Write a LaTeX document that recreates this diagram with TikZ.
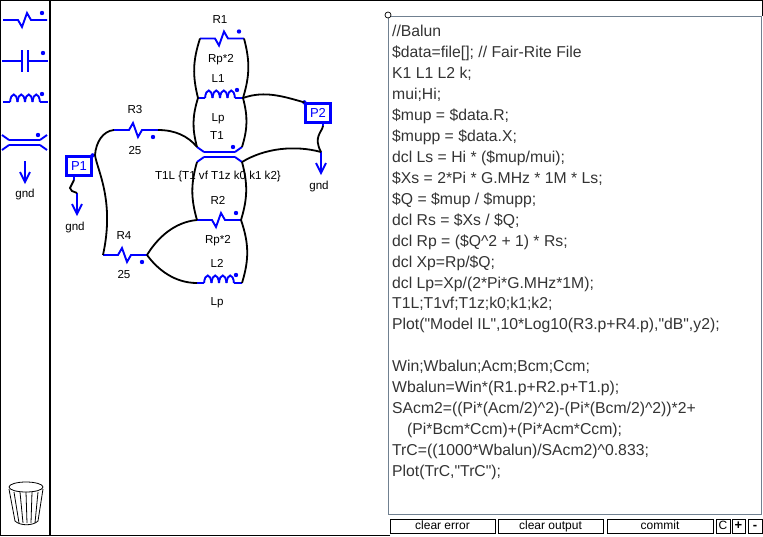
\documentclass[tikz,border=0pt]{standalone}
\usepackage{fontspec}
\setmainfont{Liberation Sans}
\newfontfamily\codefont{Liberation Sans}
\definecolor{partblue}{RGB}{0,0,255}
\definecolor{boxgray}{RGB}{112,128,144}
\tikzset{
    > = stealth,
    wire/.style = {black, line width=1.8pt},
    part/.style = {partblue, line width=1.9pt},
    frameline/.style = {black, line width=1pt},
    button/.style = {draw, line width=1pt, inner sep=0pt, text height=8.5pt, text depth=2.5pt,
        font=\fontsize{12}{14}\selectfont},
    lbl/.style = {inner sep=0pt, font=\fontsize{11.6}{14}\selectfont},
    port/.style = {draw=partblue, line width=2.2pt, minimum width=25pt, minimum height=19pt,
        inner sep=0pt, text=partblue, font=\fontsize{13}{14}\selectfont},
    resistor/.pic = {
        \draw[part] (0,0) -- (15,0) -- (19,7) -- (24,-7) -- (28,0) -- (44,0);
        \fill[partblue] (39,-7) circle (2.2);
        \coordinate (-l) at (0,0);
        \coordinate (-r) at (44,0);
    },
    inductor/.pic = {
        \draw[part] (0,0) -- (7,0);
        \foreach \i in {0,1,2,3}
            \draw[part] (7+7.5*\i,0) .. controls (8+7.5*\i,-10) and (13.5+7.5*\i,-10) .. (14.5+7.5*\i,0);
        \draw[part] (37,0) -- (45,0);
        \fill[partblue] (39,-8) circle (2.2);
        \coordinate (-l) at (0,0);
        \coordinate (-r) at (45,0);
    },
    capacitor/.pic = {
        \draw[part] (0,0) -- (20,0) (20,-11) -- (20,11) (26,-11) -- (26,11) (26,0) -- (46,0);
        \fill[partblue] (41,-8) circle (2.2);
    },
    balun/.pic = {
        \draw[part] (7,5) -- (38,5) (7,10) -- (38,10);
        \draw[part] (0,0) -- (7,5) (0,15) -- (7,10) (38,5) -- (45,0) (38,10) -- (45,15);
        \fill[partblue] (36,0) circle (2.2);
        \coordinate (-a) at (0,0);
        \coordinate (-b) at (45,0);
        \coordinate (-c) at (0,15);
        \coordinate (-d) at (45,15);
    },
    gnd/.pic = {
        \draw[part] (0,0) -- (0,21) (-5,11) -- (0,21) -- (5,11);
        \coordinate (-t) at (0,0);
    }
}

\begin{document}
\begin{tikzpicture}[x=1pt, y=-1pt]
    \useasboundingbox (0,0) rectangle (763,536);

    % window
    \draw[frameline] (390,535) -- (0.5,535) -- (0.5,0.5) -- (762,0.5) -- (762,16);
    \draw[black, line width=2.5pt] (50,0) -- (50,536);
    \draw[boxgray, line width=1pt] (388,16) rectangle (761,514);
    \node[draw, circle, line width=0.7pt, minimum size=6pt, inner sep=0pt, fill=white] (handle) at (388,15) {};

    % palette
    \pic (toolR) at (3,20) {resistor};
    \pic (toolC) at (2,61) {capacitor};
    \pic (toolL) at (3,102) {inductor};
    \pic (toolT) at (2,135) {balun};
    \pic (toolG) at (25,161) {gnd};
    \node[lbl] (toolGnd) at (25,194) {gnd};

    % bin
    \draw[black, line width=0.8pt] (26,487) ellipse (17 and 5);
    \draw[black, line width=0.8pt] (9,489) -- (15,521) .. controls (20,526) and (33,526) .. (38,521) -- (43,489);
    \foreach \a/\b in {14/19, 20/23, 26/27, 32/31, 38/35}
        \draw[black, line width=0.8pt] (\a,492) -- (\b,523);

    % parts
    \pic (R1) at (200,38.5) {resistor};
    \pic (L1) at (198,98) {inductor};
    \pic (T1) at (197,147) {balun};
    \pic (R2) at (197,220) {resistor};
    \pic (L2) at (197,283) {inductor};
    \pic[yscale=-1] (R3) at (114,130) {resistor};
    \pic[yscale=-1] (R4) at (103,255) {resistor};
    \node[port] (P1) at (79,166) {P1};
    \node[port] (P2) at (318,113) {P2};
    \pic (G1) at (77,193) {gnd};
    \pic (G2) at (321,152) {gnd};
    \fill[partblue] (P1.north east) circle (2.2);
    \fill[partblue] (P2.north west) circle (2.2);
    \coordinate (P1a) at (95,155);
    \coordinate (P1b) at (74,180);
    \coordinate (P2b) at (323,126);
    \draw[part] (P1.north east) -- (P1a);
    \draw[part] (P1.south -| P1b) -- (P1b);
    \draw[part] (P2.south -| P2b) -- (P2b);

    % wires
    \draw[wire] (R1-l) to[bend right=16] (L1-l);
    \draw[wire] (R1-r) to[bend left=16] (L1-r);
    \draw[wire] (L1-l) to[bend right=16] (T1-a);
    \draw[wire] (L1-r) to[bend left=16] (T1-b);
    \draw[wire] (T1-c) to[bend right=16] (R2-l);
    \draw[wire] (T1-d) to[bend left=16] (R2-r);
    \draw[wire] (R2-r) to[bend left=18] (L2-r);
    \draw[wire] (R3-r) .. controls (175,130) and (188,136) .. (T1-a);
    \draw[wire] (R3-l) .. controls (103,131) and (96,142) .. (P1a);
    \draw[wire] (P1a) .. controls (97,170) and (115,200) .. (R4-l);
    \draw[wire] (R4-r) .. controls (158,237) and (175,222) .. (R2-l);
    \draw[wire] (R4-r) .. controls (158,270) and (175,283) .. (L2-l);
    \draw[wire] (L1-r) .. controls (265,90) and (285,97) .. (P2.north west);
    \draw[wire] (T1-d) .. controls (265,148) and (295,145) .. (G2-t);
    \draw[wire] (P2b) .. controls (322,132) and (313,137) .. (G2-t);
    \draw[wire] (P1b) -- (70,188) -- (72,191) -- (G1-t);

    % labels
    \node[lbl] (R1top) at (220,20) {R1};
    \node[lbl] (R1val) at (221,60) {Rp*2};
    \node[lbl] (L1top) at (218,79) {L1};
    \node[lbl] (L1val) at (218,119) {Lp};
    \node[lbl] (T1top) at (217,136) {T1};
    \node[lbl] (T1val) at (218,176) {T1L \{T1 vf T1z k0 k1 k2\}};
    \node[lbl] (R2top) at (218,200) {R2};
    \node[lbl] (R2val) at (218,241) {Rp*2};
    \node[lbl] (L2top) at (217,263) {L2};
    \node[lbl] (L2val) at (217,303) {Lp};
    \node[lbl] (R3top) at (135,110) {R3};
    \node[lbl] (R3val) at (135,151) {25};
    \node[lbl] (R4top) at (124,236) {R4};
    \node[lbl] (R4val) at (124,275) {25};
    \node[lbl] (G1txt) at (75,227) {gnd};
    \node[lbl] (G2txt) at (319,186) {gnd};

    % script
    \node[anchor=north west, align=left, inner sep=0pt, text=black!80,
        font=\codefont\fontsize{15.75}{20.95}\selectfont] (script) at (392,25) {%
        //Balun\\
        \$data=file[]; // Fair-Rite File\\
        K1 L1 L2 k;\\
        mui;Hi;\\
        \$mup = \$data.R;\\
        \$mupp = \$data.X;\\
        dcl Ls = Hi * (\$mup/mui);\\
        \$Xs = 2*Pi * G.MHz * 1M * Ls;\\
        \$Q = \$mup / \$mupp;\\
        dcl Rs = \$Xs / \$Q;\\
        dcl Rp = (\$Q\textasciicircum 2 + 1) * Rs;\\
        dcl Xp=Rp/\$Q;\\
        dcl Lp=Xp/(2*Pi*G.MHz*1M);\\
        T1L;T1vf;T1z;k0;k1;k2;\\
        Plot("Model IL",10*Log10(R3.p+R4.p),"dB",y2);\\[20.95pt]
        Win;Wbalun;Acm;Bcm;Ccm;\\
        Wbalun=Win*(R1.p+R2.p+T1.p);\\
        SAcm2=((Pi*(Acm/2)\textasciicircum 2)-(Pi*(Bcm/2)\textasciicircum 2))*2+\\
        \hspace*{15pt}(Pi*Bcm*Ccm)+(Pi*Acm*Ccm);\\
        TrC=((1000*Wbalun)/SAcm2)\textasciicircum 0.833;\\
        Plot(TrC,"TrC");};

    % buttons
    \node[button, minimum width=105pt, minimum height=14pt] (clearerr) at (442.5,526) {clear error};
    \node[button, minimum width=105pt, minimum height=14pt] (clearout) at (550.5,526) {clear output};
    \node[button, minimum width=106pt, minimum height=14pt] (commit) at (660,526) {commit};
    \node[button, minimum width=14pt, minimum height=14pt] (btnC) at (723,526) {C};
    \node[button, minimum width=13pt, minimum height=14pt, font=\bfseries\fontsize{13}{14}\selectfont] (btnplus) at (738.5,526) {+};
    \node[button, minimum width=14pt, minimum height=14pt, font=\bfseries\fontsize{13}{14}\selectfont] (btnminus) at (755,526) {-};
\end{tikzpicture}
\end{document}
